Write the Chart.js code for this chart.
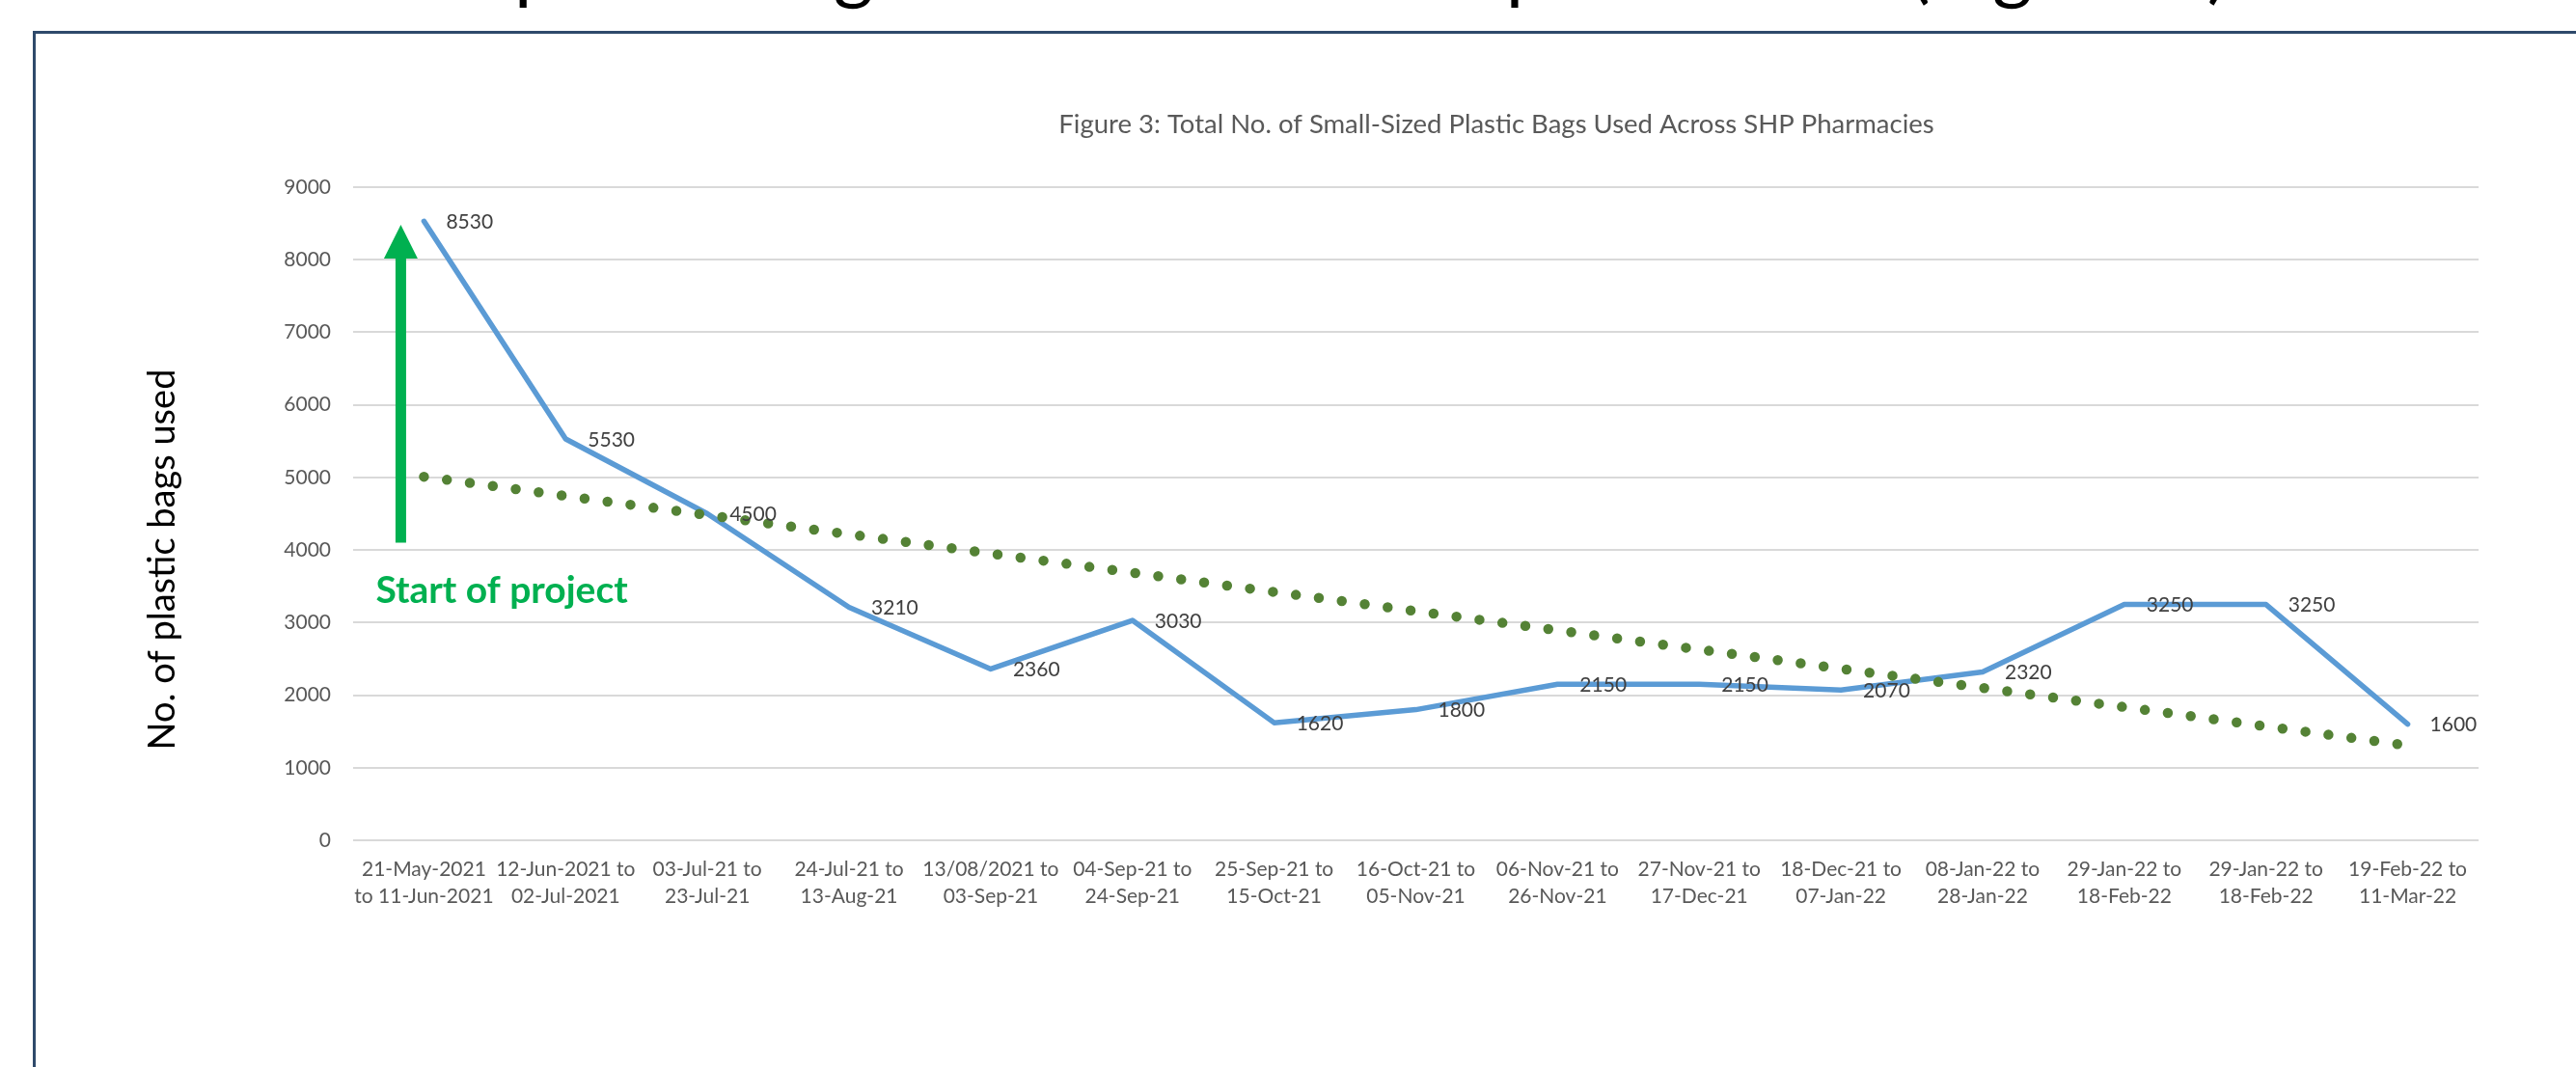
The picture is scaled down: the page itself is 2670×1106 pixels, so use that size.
<!DOCTYPE html>
<html>
<head>
<meta charset="utf-8">
<title>Small-Sized Plastic Bags Used Across SHP Pharmacies</title>
<script src="https://cdn.jsdelivr.net/npm/chart.js@4.4.1/dist/chart.umd.min.js"></script>
<style>
  html, body { margin: 0; padding: 0; background: #ffffff; overflow: hidden; }
  canvas { display: block; }
</style>
</head>
<body>
<canvas id="bagsChart" width="2670" height="1106"></canvas>
<script>
// Reporting periods (three-week windows), split into two label lines
const periods = [
  ['21-May-2021', 'to 11-Jun-2021'],
  ['12-Jun-2021 to', '02-Jul-2021'],
  ['03-Jul-21 to', '23-Jul-21'],
  ['24-Jul-21 to', '13-Aug-21'],
  ['13/08/2021 to', '03-Sep-21'],
  ['04-Sep-21 to', '24-Sep-21'],
  ['25-Sep-21 to', '15-Oct-21'],
  ['16-Oct-21 to', '05-Nov-21'],
  ['06-Nov-21 to', '26-Nov-21'],
  ['27-Nov-21 to', '17-Dec-21'],
  ['18-Dec-21 to', '07-Jan-22'],
  ['08-Jan-22 to', '28-Jan-22'],
  ['29-Jan-22 to', '18-Feb-22'],
  ['29-Jan-22 to', '18-Feb-22'],
  ['19-Feb-22 to', '11-Mar-22']
];

// Small-sized plastic bags used per period
const bagsUsed = [8530, 5530, 4500, 3210, 2360, 3030, 1620, 1800, 2150, 2150, 2070, 2320, 3250, 3250, 1600];

// Linear trend line: value at the first and at the last period
const trendEnds = [5010, 1306];

// Value axis range
const yMin = 0;
const yMax = 9000;
const yStep = 1000;

const chartTitle = 'Figure 3: Total No. of Small-Sized Plastic Bags Used Across SHP Pharmacies';
const yAxisTitle = 'No. of plastic bags used';
const slideHeading = 'Number of plastic bags used across SHP pharmacies (Figure 3)';
const startNote = 'Start of project';
// Arrow marking the project start, spanning these values on the y scale
const arrowSpan = [4100, 8480];

const trendSeries = periods.map((_, i) =>
  i === 0 ? trendEnds[0] : (i === periods.length - 1 ? trendEnds[1] : null));

const FONT = 'Lato, "Open Sans", "DejaVu Sans", sans-serif';

const decorPlugin = {
  id: 'decor',
  beforeDraw(chart) {
    const ctx = chart.ctx;
    ctx.save();
    // page background
    ctx.fillStyle = '#ffffff';
    ctx.fillRect(0, 0, chart.width, chart.height);

    // slide heading: it sits above the page edge, so only its descenders show
    ctx.fillStyle = '#000000';
    ctx.font = '80px ' + FONT;
    ctx.textAlign = 'left';
    ctx.textBaseline = 'alphabetic';
    const lead = ctx.measureText('Number of ').width;
    const m = ctx.measureText('pg()');
    ctx.fillText(slideHeading, 533 - lead, 14 - m.actualBoundingBoxDescent - 4);

    // chart frame
    ctx.strokeStyle = '#2F4A6B';
    ctx.lineWidth = 3;
    ctx.beginPath();
    ctx.moveTo(chart.width + 5, 33.5);
    ctx.lineTo(35.5, 33.5);
    ctx.lineTo(35.5, chart.height + 5);
    ctx.stroke();

    // chart title
    ctx.fillStyle = '#595959';
    ctx.font = '27.5px ' + FONT;
    ctx.textAlign = 'center';
    ctx.textBaseline = 'middle';
    ctx.fillText(chartTitle, 1551, 129);

    // value axis title
    ctx.save();
    ctx.translate(169, 580);
    ctx.rotate(-Math.PI / 2);
    ctx.fillStyle = '#000000';
    ctx.font = '38px ' + FONT;
    ctx.textAlign = 'center';
    ctx.textBaseline = 'middle';
    ctx.fillText(yAxisTitle, 0, 0);
    ctx.restore();
    ctx.restore();
  },
  afterDatasetsDraw(chart) {
    const ctx = chart.ctx;
    const xs = chart.scales.x;
    const ys = chart.scales.y;
    ctx.save();

    // value labels to the right of each point
    const meta = chart.getDatasetMeta(1);
    ctx.fillStyle = '#404040';
    ctx.font = '21px ' + FONT;
    ctx.textAlign = 'left';
    ctx.textBaseline = 'middle';
    meta.data.forEach((pt, i) => {
      ctx.fillText(String(bagsUsed[i]), pt.x + 23, pt.y + 1);
    });

    // project start arrow
    const ax = xs.getPixelForValue(0) - 24;
    const yBase = ys.getPixelForValue(arrowSpan[0]);
    const yTip = ys.getPixelForValue(arrowSpan[1]);
    const headH = 35, headW = 17.5, shaftW = 5.5;
    ctx.fillStyle = '#00B050';
    ctx.beginPath();
    ctx.moveTo(ax - shaftW, yBase);
    ctx.lineTo(ax - shaftW, yTip + headH);
    ctx.lineTo(ax - headW, yTip + headH);
    ctx.lineTo(ax, yTip);
    ctx.lineTo(ax + headW, yTip + headH);
    ctx.lineTo(ax + shaftW, yTip + headH);
    ctx.lineTo(ax + shaftW, yBase);
    ctx.closePath();
    ctx.fill();

    ctx.font = 'bold 39px ' + FONT;
    ctx.textAlign = 'left';
    ctx.textBaseline = 'middle';
    ctx.fillText(startNote, ax - 26, yBase + 50);
    ctx.restore();
  }
};

new Chart(document.getElementById('bagsChart'), {
  type: 'line',
  data: {
    labels: periods,
    datasets: [
      {
        label: 'Linear trend',
        data: trendSeries,
        spanGaps: true,
        borderColor: '#548235',
        borderWidth: 10.5,
        borderDash: [0, 24],
        borderCapStyle: 'round',
        pointRadius: 0,
        pointHoverRadius: 0,
        fill: false,
        order: 0
      },
      {
        label: 'Small-sized plastic bags',
        data: bagsUsed,
        borderColor: '#5B9BD5',
        borderWidth: 5.5,
        borderCapStyle: 'round',
        borderJoinStyle: 'round',
        tension: 0,
        pointRadius: 0,
        pointHoverRadius: 0,
        fill: false,
        order: 1
      }
    ]
  },
  options: {
    responsive: false,
    devicePixelRatio: 1,
    animation: false,
    events: [],
    layout: { padding: { left: 100, right: 101, top: 194, bottom: 135 } },
    plugins: {
      legend: { display: false },
      title: { display: false },
      tooltip: { enabled: false }
    },
    scales: {
      x: {
        type: 'category',
        offset: true,
        grid: { display: false, drawTicks: false },
        border: { display: false },
        ticks: {
          autoSkip: false,
          maxRotation: 0,
          minRotation: 0,
          padding: 17,
          color: '#595959',
          font: { family: FONT, size: 21, lineHeight: 1.3 }
        },
        afterFit(axis) { axis.height = 100; }
      },
      y: {
        min: yMin,
        max: yMax,
        grid: { color: '#D9D9D9', lineWidth: 2, drawTicks: false },
        border: { display: false },
        ticks: {
          stepSize: yStep,
          padding: 23,
          color: '#595959',
          font: { family: FONT, size: 21 },
          callback: (value) => String(value)
        },
        afterFit(axis) { axis.width = 266; }
      }
    }
  },
  plugins: [decorPlugin]
});
</script>
</body>
</html>
